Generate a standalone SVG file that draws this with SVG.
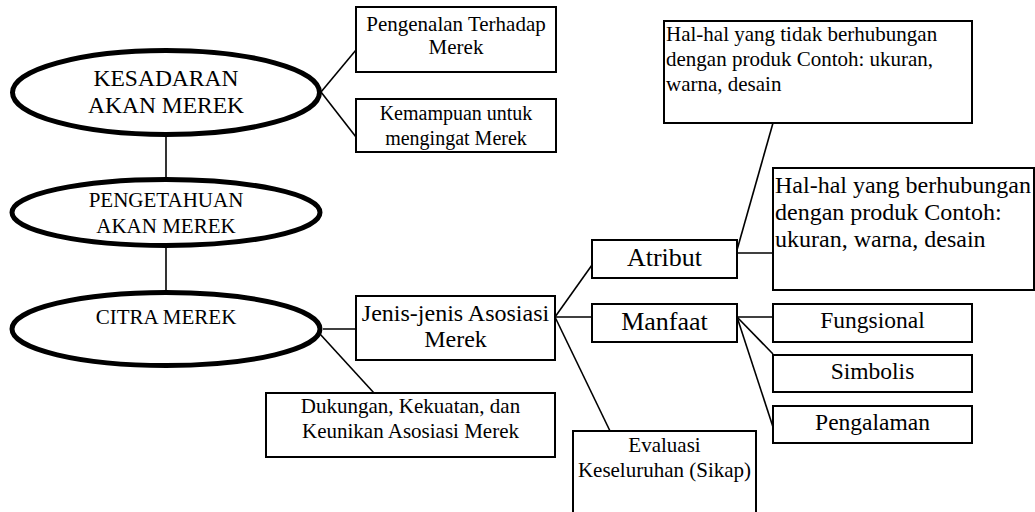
<svg xmlns="http://www.w3.org/2000/svg" width="1035" height="512" viewBox="0 0 1035 512">
<style>
.ell{fill:#fff;stroke:#000;stroke-width:5}
.box{fill:#fff;stroke:#000;stroke-width:2}
.ln{stroke:#000;stroke-width:1.6;fill:none}
text{font-family:"Liberation Serif","Times New Roman",serif;fill:#000}
.c{text-anchor:middle}
</style>
<rect width="1035" height="512" fill="#fff"/>
<g id="connectors">
<line class="ln" x1="166" y1="137" x2="166" y2="177"/>
<line class="ln" x1="166" y1="248" x2="166" y2="290"/>
<line class="ln" x1="321" y1="92" x2="356" y2="50"/>
<line class="ln" x1="321" y1="92" x2="356" y2="137"/>
<line class="ln" x1="323" y1="329" x2="356" y2="329"/>
<line class="ln" x1="320" y1="334" x2="374" y2="393"/>
<line class="ln" x1="555" y1="317" x2="592" y2="265"/>
<line class="ln" x1="555" y1="317" x2="592" y2="317"/>
<line class="ln" x1="555" y1="317" x2="610" y2="431"/>
<line class="ln" x1="737" y1="250" x2="773" y2="123"/>
<line class="ln" x1="737" y1="253" x2="773" y2="253"/>
<line class="ln" x1="737" y1="317" x2="773" y2="317"/>
<line class="ln" x1="737" y1="317" x2="773" y2="354"/>
<line class="ln" x1="737" y1="317" x2="773" y2="427"/>
</g>
<g id="kesadaran">
<ellipse class="ell" cx="166" cy="92.5" rx="153.5" ry="42"/>
<text class="c" x="166" y="86" font-size="23.5">KESADARAN</text>
<text class="c" x="166" y="113" font-size="23.5">AKAN MEREK</text>
</g>
<g id="pengetahuan">
<ellipse class="ell" cx="166" cy="212.5" rx="154" ry="33"/>
<text class="c" x="166" y="207" font-size="21">PENGETAHUAN</text>
<text class="c" x="166" y="233" font-size="21">AKAN MEREK</text>
</g>
<g id="citra">
<ellipse class="ell" cx="166" cy="329" rx="154" ry="36.5"/>
<text class="c" x="166" y="324" font-size="21">CITRA MEREK</text>
</g>
<g id="pengenalan">
<rect class="box" x="356" y="7" width="200" height="65"/>
<text class="c" x="456" y="31" font-size="21">Pengenalan Terhadap</text>
<text class="c" x="456" y="54" font-size="21">Merek</text>
</g>
<g id="kemampuan">
<rect class="box" x="356" y="99" width="200" height="53"/>
<text class="c" x="456" y="120" font-size="20">Kemampuan untuk</text>
<text class="c" x="456" y="145" font-size="20">mengingat Merek</text>
</g>
<g id="jenis">
<rect class="box" x="356" y="296" width="199" height="64"/>
<text class="c" x="455.5" y="321" font-size="24">Jenis-jenis Asosiasi</text>
<text class="c" x="455.5" y="347" font-size="24">Merek</text>
</g>
<g id="dukungan">
<rect class="box" x="266" y="393" width="289" height="64"/>
<text class="c" x="410.5" y="413" font-size="21">Dukungan, Kekuatan, dan</text>
<text class="c" x="410.5" y="438" font-size="21">Keunikan Asosiasi Merek</text>
</g>
<g id="atribut">
<rect class="box" x="592" y="240" width="145" height="38"/>
<text class="c" x="664.5" y="266" font-size="26">Atribut</text>
</g>
<g id="manfaat">
<rect class="box" x="592" y="304" width="145" height="38"/>
<text class="c" x="664.5" y="330" font-size="26">Manfaat</text>
</g>
<g id="evaluasi">
<rect class="box" x="573" y="431" width="183" height="90"/>
<text class="c" x="664.5" y="452" font-size="21">Evaluasi</text>
<text class="c" x="664.5" y="477" font-size="21">Keseluruhan (Sikap)</text>
</g>
<g id="tidak-berhubungan">
<rect class="box" x="664" y="21" width="308" height="102"/>
<text x="666" y="41" font-size="21">Hal-hal yang tidak berhubungan</text>
<text x="666" y="66" font-size="21">dengan produk Contoh: ukuran,</text>
<text x="666" y="91" font-size="21">warna, desain</text>
</g>
<g id="berhubungan">
<rect class="box" x="773" y="168" width="261" height="122"/>
<text x="775" y="193" font-size="24">Hal-hal yang berhubungan</text>
<text x="775" y="220" font-size="24">dengan produk Contoh:</text>
<text x="775" y="247" font-size="24">ukuran, warna, desain</text>
</g>
<g id="fungsional">
<rect class="box" x="773" y="304" width="199" height="38"/>
<text class="c" x="872.5" y="328" font-size="23.5">Fungsional</text>
</g>
<g id="simbolis">
<rect class="box" x="773" y="355" width="199" height="37"/>
<text class="c" x="872.5" y="379" font-size="23.5">Simbolis</text>
</g>
<g id="pengalaman">
<rect class="box" x="773" y="406" width="199" height="37"/>
<text class="c" x="872.5" y="430" font-size="23.5">Pengalaman</text>
</g>
</svg>
